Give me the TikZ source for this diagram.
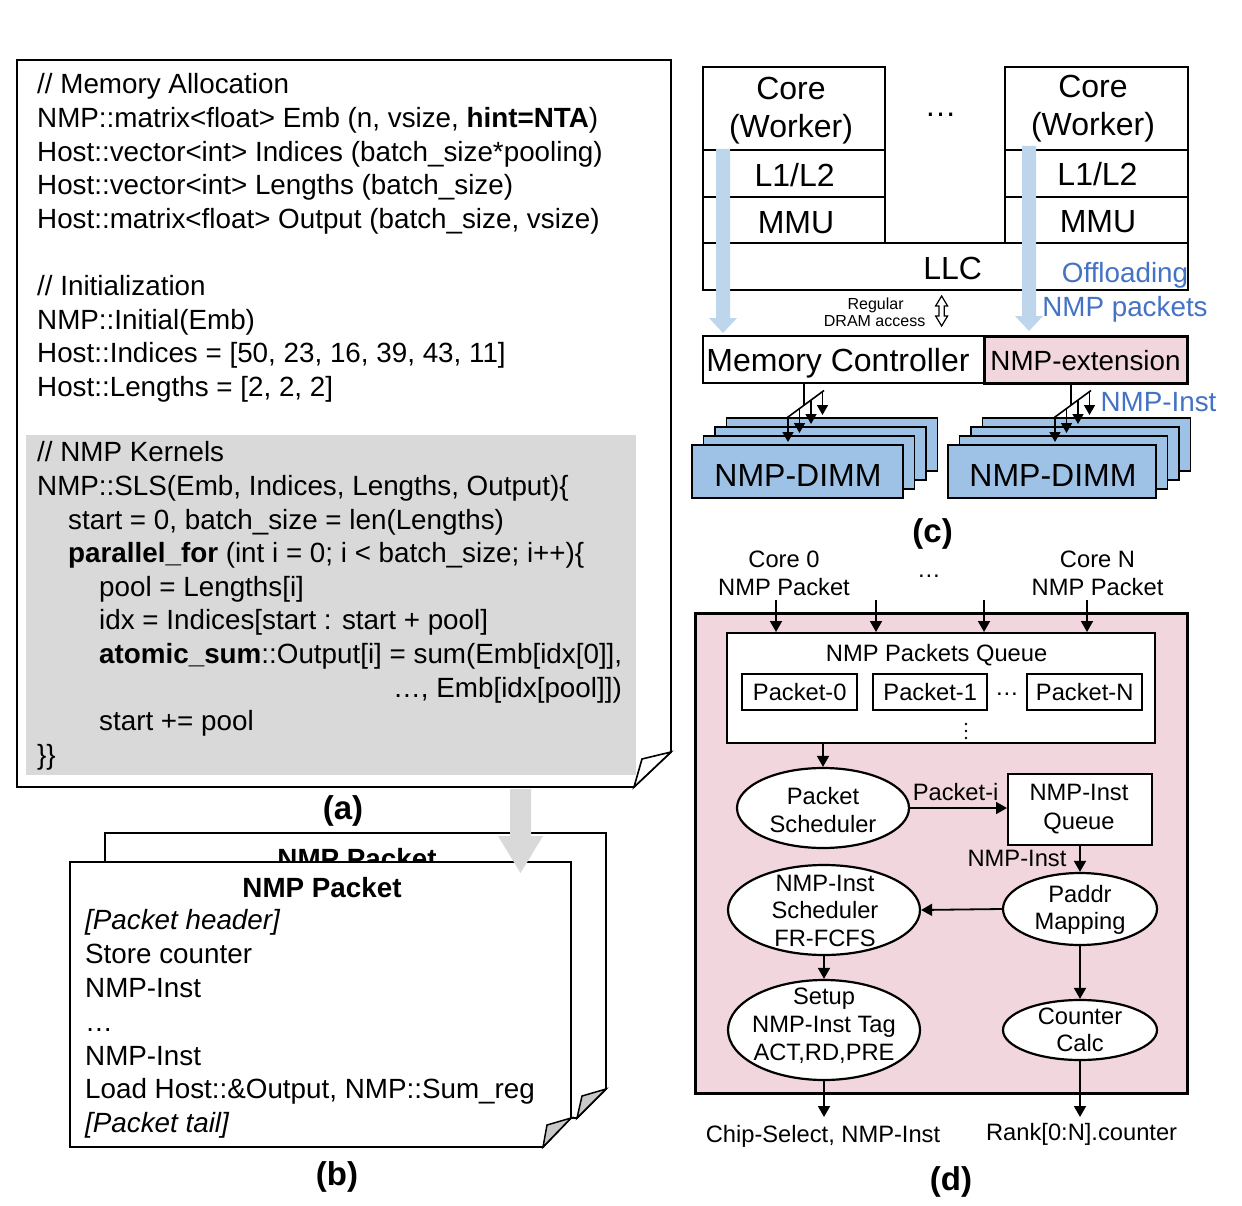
\documentclass[tikz,border=0pt]{standalone}
\usepackage{fontspec}
\setmainfont{Liberation Sans}
\usetikzlibrary{arrows.meta,shapes.geometric}
\definecolor{pinkf}{RGB}{242,214,222}
\definecolor{dimmblue}{RGB}{157,194,230}
\definecolor{lblue}{RGB}{190,214,236}
\definecolor{txtblue}{RGB}{68,114,196}
\definecolor{graybg}{RGB}{217,217,217}
\definecolor{flapgray}{RGB}{200,200,200}
\newcommand{\FtCode}{\fontsize{27.8}{33.7}\selectfont}
\newcommand{\FtBig}{\fontsize{32}{38}\selectfont}
\newcommand{\FtMed}{\fontsize{27.8}{33}\selectfont}
\newcommand{\FtSm}{\fontsize{16}{17.5}\selectfont}
\newcommand{\FtD}{\fontsize{23.7}{28}\selectfont}
\newcommand{\FtLab}{\fontsize{33}{38}\selectfont\bfseries}
\tikzset{
  code/.style={anchor=base west, inner sep=0pt, font=\FtCode},
  lab/.style={inner sep=0pt, font=\FtLab},
  cbox/.style={draw, line width=1.8pt, inner sep=0pt, anchor=north west},
  ctxt/.style={inner sep=0pt, font=\FtBig, align=center},
  dimm/.style={draw, line width=1.8pt, fill=dimmblue, inner sep=0pt, minimum height=53pt, anchor=north west},
  dtxt/.style={inner sep=0pt, font=\FtD, align=center},
  pbox/.style={draw, line width=2.4pt, fill=white, inner sep=0pt, minimum height=36pt, anchor=north west, font=\FtD},
  ell/.style={ellipse, draw, line width=2.2pt, fill=white, inner sep=0pt},
  arr/.style={line width=1.8pt, -{Triangle[length=11pt,width=12pt]}},
  sarr/.style={line width=1.6pt, -{Triangle[length=10pt,width=11pt]}},
  paper/.style={line width=1.8pt, fill=white, line join=miter},
}
\begin{document}
\begin{tikzpicture}[x=1pt,y=-1pt]
\fill[white] (0,0) rectangle (1242,1206);
\useasboundingbox (0,0) rectangle (1242,1206);

% ---------------- panel (b) ----------------
\draw[paper] (105,833) -- (606,833) -- (606,1089) -- (577,1118) -- (105,1118) -- cycle;
\draw[line width=1.5pt, fill=flapgray] (577,1118) -- (582,1096) -- (606,1089) -- cycle;
\node[anchor=base, inner sep=0pt, font=\FtCode\bfseries] (bb0) at (357,868) {NMP Packet};
\draw[paper] (70,862) -- (571,862) -- (571,1118) -- (543,1147) -- (70,1147) -- cycle;
\draw[line width=1.5pt, fill=flapgray] (543,1147) -- (547,1125) -- (571,1118) -- cycle;
\node[anchor=base, inner sep=0pt, font=\FtCode\bfseries] (b0) at (322,897) {NMP Packet};
\node[code] (b1) at (85,929) {\itshape [Packet header]};
\node[code] (b2) at (85,963) {Store counter};
\node[code] (b3) at (85,997) {NMP-Inst};
\node[code] (b4) at (85,1031) {…};
\node[code] (b5) at (85,1065) {NMP-Inst};
\node[code] (b6) at (85,1098) {Load Host::\&Output, NMP::Sum\_reg};
\node[code] (b7) at (85,1132) {\itshape [Packet tail]};
\node[lab] (lb) at (337,1177) {(b)};

% gray arrow (a) -> (b)
\coordinate (ga1) at (520.5,789);
\coordinate (ga2) at (520.5,873);
\fill[graybg] (510,789) -- (531,789) -- (531,836) -- (543,836) -- (ga2) -- (498,836) -- (510,836) -- cycle;

% ---------------- panel (a) ----------------
\draw[paper] (17,60) -- (671,60) -- (671,752) -- (634,787) -- (17,787) -- cycle;
\fill[graybg] (26,435) rectangle (636,775);
\draw[line width=1.6pt, fill=white] (634,787) -- (642,759) -- (671,752) -- cycle;
\node[code] (a1) at (37,94) {// Memory Allocation};
\node[code] (a2) at (37,128) {NMP::matrix<float> Emb (n, vsize, \textbf{hint=NTA})};
\node[code] (a3) at (37,162) {Host::vector<int> Indices (batch\_size*pooling)};
\node[code] (a4) at (37,195) {Host::vector<int> Lengths (batch\_size)};
\node[code] (a5) at (37,229) {Host::matrix<float> Output (batch\_size, vsize)};
\node[code] (a6) at (37,295) {// Initialization};
\node[code] (a7) at (37,329) {NMP::Initial(Emb)};
\node[code] (a8) at (37,362) {Host::Indices = [50, 23, 16, 39, 43, 11]};
\node[code] (a9) at (37,396) {Host::Lengths = [2, 2, 2]};
\node[code] (a10) at (37,461) {// NMP Kernels};
\node[code] (a11) at (37,495) {NMP::SLS(Emb, Indices, Lengths, Output)\{};
\node[code] (a12) at (68,529) {start = 0, batch\_size = len(Lengths)};
\node[code] (a13) at (68,562) {\textbf{parallel\_for} (int i = 0; i < batch\_size; i++)\{};
\node[code] (a14) at (99,596) {pool = Lengths[i]};
\node[code] (a15) at (99,629) {idx = Indices[start : start + pool]};
\node[code] (a16) at (99,663) {\textbf{atomic\_sum}::Output[i] = sum(Emb[idx[0]],};
\node[code, anchor=base east] (a17) at (622,697) {…, Emb[idx[pool]])};
\node[code] (a18) at (99,730) {start += pool};
\node[code] (a19) at (37,764) {\}\}};
\node[lab] (la) at (343,811) {(a)};

% ---------------- panel (c) ----------------
\node[cbox, minimum width=182pt, minimum height=83pt] (coreL) at (702,66) {};
\node[ctxt] (coreLt) at (791,110.5) {Core\\(Worker)};
\node[cbox, minimum width=182pt, minimum height=47pt] (l12L) at (702,149) {};
\node[ctxt, anchor=base] (l12Lt) at (794.6,186.7) {L1/L2};
\node[cbox, minimum width=182pt, minimum height=46pt] (mmuL) at (702,196) {};
\node[ctxt, anchor=base] (mmuLt) at (796,234) {MMU};
\node[cbox, minimum width=183pt, minimum height=83pt] (coreR) at (1004,66) {};
\node[ctxt] (coreRt) at (1093,108.5) {Core\\(Worker)};
\node[cbox, minimum width=183pt, minimum height=47pt] (l12R) at (1004,149) {};
\node[ctxt, anchor=base] (l12Rt) at (1097.5,186) {L1/L2};
\node[cbox, minimum width=183pt, minimum height=46pt] (mmuR) at (1004,196) {};
\node[ctxt, anchor=base] (mmuRt) at (1098,232.7) {MMU};
\node[cbox, minimum width=485pt, minimum height=47pt] (llc) at (702,242) {};
\node[ctxt, anchor=base] (llct) at (952.6,279.3) {LLC};
\node[ctxt, anchor=base] (cdots) at (940.7,117) {…};

% light blue arrows
\fill[lblue] (716,149) -- (730,149) -- (730,318) -- (737,318) -- (723,333) -- (709,318) -- (716,318) -- cycle;
\fill[lblue] (1022,146) -- (1036,146) -- (1036,316) -- (1043,316) -- (1029,331) -- (1015,316) -- (1022,316) -- cycle;

\node[anchor=base, inner sep=0pt, font=\FtSm] (reg1) at (875.6,309) {Regular};
\node[anchor=base, inner sep=0pt, font=\FtSm] (reg2) at (874.6,326.7) {DRAM access};
\draw[line width=1.2pt, fill=white, line join=miter] (941.6,296) -- (947.6,306) -- (944.3,306) -- (944.3,316) -- (947.6,316) -- (941.6,326) -- (935.6,316) -- (938.9,316) -- (938.9,306) -- (935.6,306) -- cycle;

\node[anchor=base, inner sep=0pt, font=\FtMed, text=txtblue] (off1) at (1125,283) {Offloading};
\node[anchor=base, inner sep=0pt, font=\FtMed, text=txtblue] (off2) at (1125,316.7) {NMP packets};

\node[draw, line width=1.8pt, minimum width=281pt, minimum height=47pt, anchor=north west, inner sep=0pt] (mc) at (702,335) {};
\node[anchor=base, inner sep=0pt, font=\FtBig] (mct) at (838,371.7) {Memory Controller};
\node[draw, line width=2.8pt, fill=pinkf, minimum width=203pt, minimum height=47pt, anchor=north west, inner sep=0pt] (ext) at (983,335) {};
\node[anchor=base, inner sep=0pt, font=\FtMed] (extt) at (1085.5,370.7) {NMP-extension};

% DIMM stacks
\node[dimm, minimum width=211pt] (dl3) at (725.5,417) {};
\node[dimm, minimum width=211pt] (dl2) at (714,426) {};
\node[dimm, minimum width=211pt] (dl1) at (702.5,435) {};
\node[dimm, minimum width=211pt] (dl0) at (691,444) {};
\node[anchor=base, inner sep=0pt, font=\FtBig] (dlt) at (798,486.7) {NMP-DIMM};
\node[dimm, minimum width=208pt] (dr3) at (981.5,417) {};
\node[dimm, minimum width=208pt] (dr2) at (970,426) {};
\node[dimm, minimum width=208pt] (dr1) at (958.5,435) {};
\node[dimm, minimum width=208pt] (dr0) at (947,444) {};
\node[anchor=base, inner sep=0pt, font=\FtBig] (drt) at (1053,486.7) {NMP-DIMM};

% buses left
\coordinate (mcb) at (804,405.2);
\coordinate (dgl1) at (786,418.5);
\coordinate (dgl2) at (824,390.5);
\coordinate (pl0) at (788,417);
\coordinate (pl1) at (799.5,408.6);
\coordinate (pl2) at (811,400.1);
\coordinate (pl3) at (822.5,391.6);
\draw[line width=1.6pt] (mc.south -| mcb) -- (mcb);
\draw[line width=1.6pt] (dgl1) -- (dgl2);
\draw[sarr] (pl0) -- ([xshift=97pt,yshift=2pt]dl0.north west);
\draw[sarr] (pl1) -- ([xshift=97pt,yshift=2pt]dl1.north west);
\draw[sarr] (pl2) -- ([xshift=97pt,yshift=2pt]dl2.north west);
\draw[sarr] (pl3) -- ([xshift=97pt,yshift=2pt]dl3.north west);
% buses right
\coordinate (exb) at (1071,405.2);
\coordinate (dgr1) at (1053,418.5);
\coordinate (dgr2) at (1091,390.5);
\coordinate (pr0) at (1055,417);
\coordinate (pr1) at (1066.5,408.6);
\coordinate (pr2) at (1078,400.1);
\coordinate (pr3) at (1089.5,391.6);
\draw[line width=1.6pt] (ext.south -| exb) -- (exb);
\draw[line width=1.6pt] (dgr1) -- (dgr2);
\draw[sarr] (pr0) -- ([xshift=108pt,yshift=2pt]dr0.north west);
\draw[sarr] (pr1) -- ([xshift=108pt,yshift=2pt]dr1.north west);
\draw[sarr] (pr2) -- ([xshift=108pt,yshift=2pt]dr2.north west);
\draw[sarr] (pr3) -- ([xshift=108pt,yshift=2pt]dr3.north west);
\node[anchor=base, inner sep=0pt, font=\FtMed, text=txtblue] (nil2) at (1158.5,411.7) {NMP-Inst};
\node[lab] (lc) at (932.6,534) {(c)};

% ---------------- panel (d) ----------------
\node[dtxt] (c0l) at (784,573.5) {Core 0\\NMP Packet};
\node[dtxt] (cNl) at (1097.5,573.5) {Core N\\NMP Packet};
\node[dtxt, anchor=base] (cdd) at (929,577) {…};

\node[draw, line width=2.8pt, fill=pinkf, minimum width=492pt, minimum height=480pt, anchor=north west, inner sep=0pt] (dbox) at (694,612) {};
\node[draw, line width=2.4pt, fill=white, minimum width=428pt, minimum height=110pt, anchor=north west, inner sep=0pt] (queue) at (726,632) {};
\node[dtxt, anchor=base] (qt) at (936.6,661.7) {NMP Packets Queue};
\node[pbox, minimum width=115pt] (p0) at (741,673) {Packet-0};
\node[pbox, minimum width=114pt] (p1) at (872,673) {Packet-1};
\node[pbox, minimum width=115pt] (pn) at (1026,673) {Packet-N};
\node[dtxt, anchor=base] (pdots) at (1007,695) {…};
\fill (966,724) circle (1.3pt);
\fill (966,731) circle (1.3pt);
\fill (966,738) circle (1.3pt);

\coordinate (in0) at (776,600);
\coordinate (in1) at (876,600);
\coordinate (in2) at (984,600);
\coordinate (in3) at (1087,600);
\draw[arr] (in0) -- (in0 |- queue.north);
\draw[arr] (in1) -- (in1 |- queue.north);
\draw[arr] (in2) -- (in2 |- queue.north);
\draw[arr] (in3) -- (in3 |- queue.north);

\node[ell, minimum width=172pt, minimum height=80pt] (psch) at (823,808) {};
\node[dtxt] (pscht) at (823,810.5) {Packet\\Scheduler};
\node[draw, line width=2.4pt, fill=white, minimum width=144pt, minimum height=71pt, anchor=north west, inner sep=0pt] (iq) at (1007,773) {};
\node[dtxt, font=\fontsize{23.7}{29}\selectfont] (iqt) at (1079,808.8) {NMP-Inst\\Queue};
\node[ell, minimum width=154pt, minimum height=72pt] (paddr) at (1080,909) {};
\node[dtxt, font=\fontsize{23.7}{27}\selectfont] (paddrt) at (1080,910.3) {Paddr\\Mapping};
\node[ell, minimum width=192pt, minimum height=90pt] (sched) at (824,910) {};
\node[dtxt, font=\fontsize{23.7}{27.5}\selectfont] (schedt) at (825,910.5) {NMP-Inst\\Scheduler\\FR-FCFS};
\node[ell, minimum width=192pt, minimum height=100pt] (setup) at (824,1030) {};
\node[dtxt, font=\fontsize{23.7}{27.8}\selectfont] (setupt) at (824,1026) {Setup\\NMP-Inst Tag\\ACT,RD,PRE};
\node[ell, minimum width=154pt, minimum height=60pt] (counter) at (1080,1030) {};
\node[dtxt, font=\fontsize{23.7}{26.7}\selectfont] (countert) at (1080,1029.7) {Counter\\Calc};

\draw[arr] (queue.south -| psch.north) -- (psch.north);
\draw[arr] (psch.east) -- (psch.east -| iq.west);
\node[dtxt, anchor=base] (pil) at (955.6,800) {Packet-i};
\draw[arr] (iq.south -| paddr.north) -- (paddr.north);
\node[dtxt, anchor=base] (nil) at (1017,866.7) {NMP-Inst};
\draw[arr] (paddr.west) -- (sched.east);
\draw[arr] (sched.south) -- (setup.north);
\draw[arr] (paddr.south) -- (counter.north);
\coordinate (outL) at (824,1117);
\coordinate (outR) at (1080,1117);
\draw[arr] (setup.south) -- (outL);
\draw[arr] (counter.south) -- (outR);
\node[dtxt, anchor=base] (csl) at (823,1142.7) {Chip-Select, NMP-Inst};
\node[dtxt, anchor=base] (rkl) at (1081.6,1140.7) {Rank[0:N].counter};
\node[lab] (ld) at (951,1182) {(d)};
\end{tikzpicture}
\end{document}
